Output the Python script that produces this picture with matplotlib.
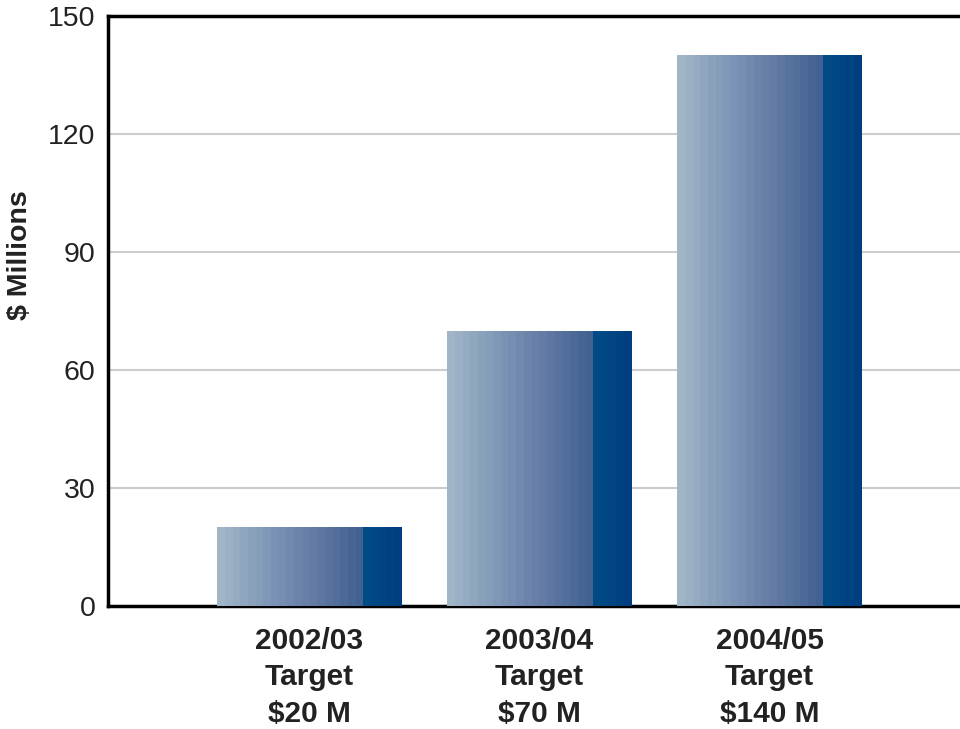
import matplotlib.pyplot as plt
import numpy as np
from matplotlib.colors import LinearSegmentedColormap

plt.rcParams['font.family'] = ['Liberation Sans', 'DejaVu Sans']

# data
years = ['2002/03', '2003/04', '2004/05']
targets = [20, 70, 140]
x_labels = [f'{y}\nTarget\n${t} M' for y, t in zip(years, targets)]
y_ticks = [0, 30, 60, 90, 120, 150]

# banded gradient, light on the left, dark navy on the right
grad_cmap = LinearSegmentedColormap.from_list('bar_grad', [
    (0.00, (0.63, 0.71, 0.78)),
    (0.30, (0.48, 0.58, 0.71)),
    (0.55, (0.38, 0.47, 0.64)),
    (0.79, (0.25, 0.38, 0.57)),
    (0.80, (0.00, 0.30, 0.53)),
    (1.00, (0.00, 0.25, 0.50)),
], N=24)

fig = plt.figure(figsize=(9.6, 7.29), dpi=100)
ax = fig.add_axes([0.1125, 0.169, 0.8875, 0.809])

xpos = np.arange(len(targets))
width = 0.804
bars = ax.bar(xpos, targets, width=width, color='none', zorder=3)

grad = np.linspace(0, 1, 256).reshape(1, -1)
for b in bars:
    x0, w, h = b.get_x(), b.get_width(), b.get_height()
    im = ax.imshow(grad, cmap=grad_cmap, aspect='auto',
                   extent=[x0, x0 + w, 0, h], zorder=3, interpolation='nearest')
    im.set_clip_path(b)

ax.set_xlim(-0.876, 2.828)
ax.set_ylim(0, 150)
ax.set_yticks(y_ticks)
ax.set_yticklabels([str(t) for t in y_ticks], fontsize=20.5, color='#222222')
ax.set_xticks(xpos)
ax.set_xticklabels(x_labels, fontsize=21.5, fontweight='bold', color='#222222',
                   linespacing=1.4)
ax.tick_params(axis='both', length=0)
ax.tick_params(axis='y', pad=9)
ax.tick_params(axis='x', pad=15)

ax.yaxis.grid(True, color='#cccccc', linewidth=1.5, zorder=0)
ax.set_axisbelow(True)

for side in ['left', 'bottom', 'top']:
    ax.spines[side].set_linewidth(2.5)
    ax.spines[side].set_color('black')
ax.spines['right'].set_visible(False)

ax.set_ylabel('$ Millions', fontsize=20.5, fontweight='bold', color='#222222')
ax.yaxis.set_label_coords(-0.088, 0.595)

fig.savefig('out.png', dpi=100)
